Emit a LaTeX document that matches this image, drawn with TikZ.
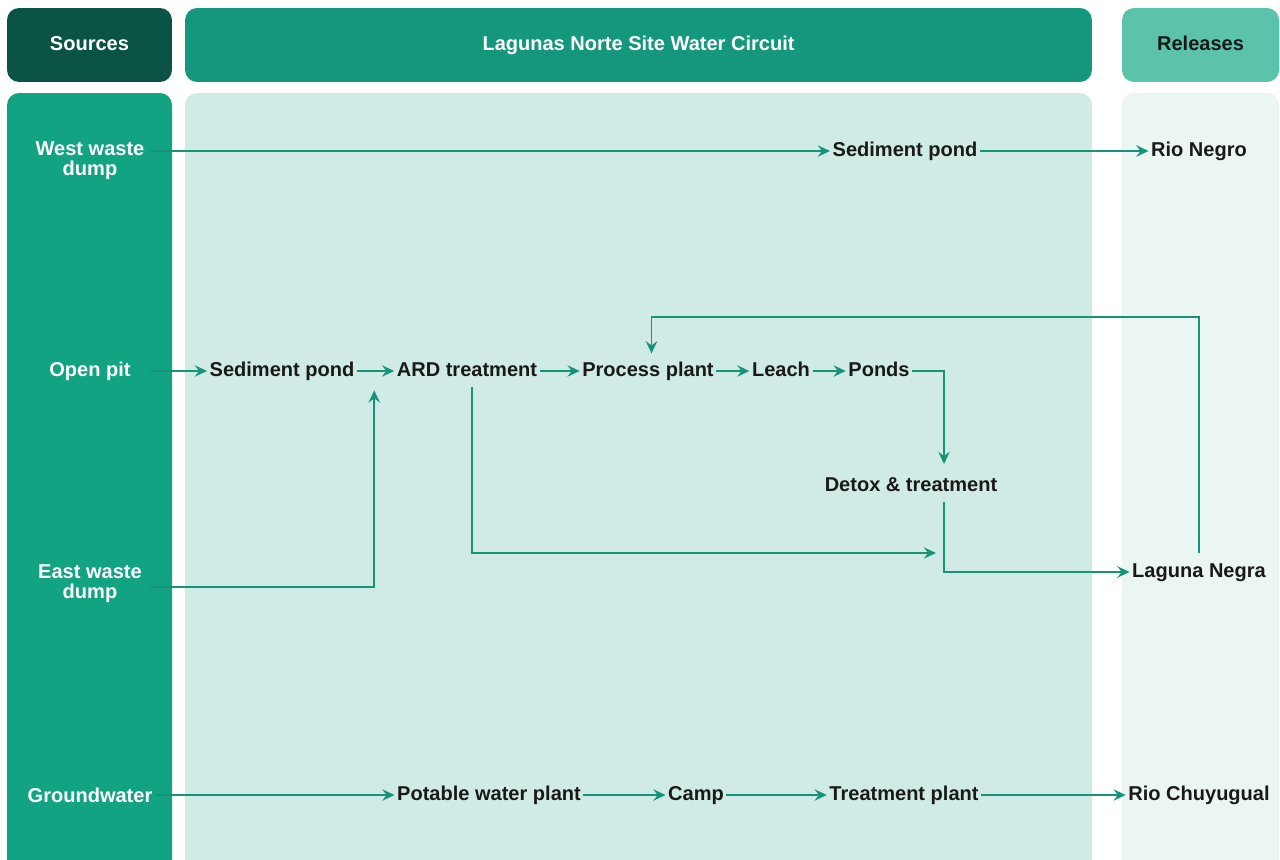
\documentclass[tikz,border=0pt]{standalone}
\usepackage{fontspec}
\setmainfont{Liberation Sans}
\usepackage{xcolor}
\usetikzlibrary{arrows.meta,positioning,calc}

\definecolor{srchead}{HTML}{0B5445}
\definecolor{midhead}{HTML}{15977D}
\definecolor{relhead}{HTML}{5BC3AA}
\definecolor{srcbody}{HTML}{12A383}
\definecolor{midbody}{HTML}{D0EBE5}
\definecolor{relbody}{HTML}{EBF5F2}
\definecolor{flowline}{HTML}{17937A}

\begin{document}
\begin{tikzpicture}[x=0.02cm,y=-0.02cm,
  hdr/.style={rounded corners=0.24cm,minimum height=1.48cm,
    font=\fontsize{11.4}{13.7}\selectfont\bfseries,
    text height=8.5pt,text depth=2.5pt},
  src/.style={text=white,align=center,minimum width=2.4cm,inner sep=1.5pt,
    font=\fontsize{11.4}{11.5}\selectfont\bfseries},
  stn/.style={inner sep=1.5pt,outer sep=0pt,text=black!90,
    font=\fontsize{11.4}{13.7}\selectfont\bfseries,
    text height=8.5pt,text depth=2.5pt},
  flow/.style={draw=flowline,line width=0.9pt,
    -{Stealth[length=7pt,width=6.5pt,inset=2.5pt]}}
]
\useasboundingbox (0,0) rectangle (1280,859);
% column bodies
\fill[srcbody,rounded corners=0.24cm] (7,93) rectangle (172,900);
\fill[midbody,rounded corners=0.24cm] (185,93) rectangle (1092,900);
\fill[relbody,rounded corners=0.24cm] (1122,93) rectangle (1279,900);
% headers
\node[hdr,fill=srchead,text=white,minimum width=3.3cm] (hsrc)
  at (89.5,45) {Sources};
\node[hdr,fill=midhead,text=white,minimum width=18.14cm] (hmid)
  at (638.5,45) {Lagunas Norte Site Water Circuit};
\node[hdr,fill=relhead,text=black!90,minimum width=3.14cm] (hrel)
  at (1200.5,45) {Releases};
% sources
\node[src] (wwd) at (90,161) {West waste\\dump};
\node[src] (op)  at (90,371) {Open pit};
\node[src] (ewd) at (90,584) {East waste\\dump};
\node[src] (gw)  at (90,795) {Groundwater};
% circuit and releases
\node[stn] (sp1) at (905,151)  {Sediment pond};
\node[stn] (rn)  at (1199,151) {Rio Negro};
\node[stn] (sp2) at (282,371)  {Sediment pond};
\node[stn] (ard) at (467,371)  {ARD treatment};
\node[stn] (pp)  at (648,371)  {Process plant};
\node[stn] (lch) at (781,371)  {Leach};
\node[stn] (pnd) at (879,371)  {Ponds};
\node[stn] (dtx) at (911,486)  {Detox \& treatment};
\node[stn] (ln)  at (1199,572) {Laguna Negra};
\node[stn] (pwp) at (489,795)  {Potable water plant};
\node[stn] (cmp) at (696,795)  {Camp};
\node[stn] (tp)  at (904,795)  {Treatment plant};
\node[stn] (rc)  at (1199,795) {Rio Chuyugual};
\coordinate (ardend) at (936,553);
\coordinate (ret) at (0,317);
% flows
\draw[flow] (wwd.east |- sp1) -- (sp1);
\foreach \a/\b in {sp1/rn,op/sp2,sp2/ard,ard/pp,pp/lch,lch/pnd,
                   gw/pwp,pwp/cmp,cmp/tp,tp/rc}
  \draw[flow] (\a) -- (\b);
\draw[flow,shorten >=5.5pt] (pnd.east) -| ([xshift=0.66cm]dtx.north);
\draw[flow,shorten <=2pt] ([xshift=0.66cm]dtx.south) |- (ln.west);
\draw[flow,shorten <=2pt] ([xshift=0.1cm]ard.south) |- (ardend);
\draw[flow,shorten >=4pt] ([yshift=-0.06cm]ewd.east)
  -| ([xshift=-0.4cm]ard.south west);
\draw[flow,shorten <=4pt,shorten >=3pt] (ln.north) -- (ln.north |- ret)
  -| ([xshift=2pt]pp.north);
\end{tikzpicture}
\end{document}
